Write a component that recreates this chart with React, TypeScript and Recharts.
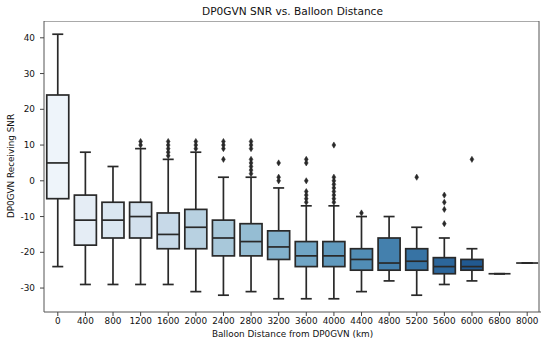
import React from 'react';
import { BarChart, Bar, XAxis, YAxis } from 'recharts';

const categories = ['0', '400', '800', '1200', '1600', '2000', '2400', '2800', '3200', '3600', '4000', '4400', '4800', '5200', '5600', '6000', '6800', '8000'];
const whiskerLow = [-24, -29, -29, -29, -29, -31, -32, -31, -33, -33, -33, -31, -28, -32, -29, -28, -26, -23];
const q1 = [-5, -18, -16, -16, -19, -19, -21, -21, -22, -24, -24, -25, -25, -25, -26, -25, -26, -23];
const median = [5, -11, -11, -10, -15, -13, -16, -17, -18.5, -21, -21, -22, -23, -22.5, -24, -24, -26, -23];
const q3 = [24, -4, -6, -6, -9, -8, -11, -12, -14, -17, -17, -19, -16, -19, -21.5, -22, -26, -23];
const whiskerHigh = [41, 8, 4, 9, 6, 8, 1, 1, -2, -7, -7, -10, -10, -13, -16, -19, -26, -23];
const outliers: number[][] = [
  [], [], [], [10, 11], [7, 8, 9, 10, 11], [9, 10, 11], [6, 9, 10, 11], [2, 3, 4, 5, 6, 9, 10, 11],
  [0, 1, 5], [-6, -5, -4, -3, 0, 5, 6], [-6, -5, -4, -3, -2, -1, 0, 1, 10], [-9], [], [1],
  [-12, -8, -6, -4], [6], [], [],
];
const yTicks = [-30, -20, -10, 0, 10, 20, 30, 40];
const Y_MIN = -36.7;
const Y_MAX = 44.7;
const BAR_FRACTION = 0.8;

// seaborn "Blues" palette, desaturated to 0.75
const BLUES = [
  [0.9686, 0.9843, 1.0], [0.8706, 0.9216, 0.9686], [0.7765, 0.8588, 0.9373],
  [0.6196, 0.7922, 0.8824], [0.4196, 0.6824, 0.8392], [0.2588, 0.5725, 0.7765],
  [0.1294, 0.4431, 0.7098], [0.0314, 0.3176, 0.6118], [0.0314, 0.1882, 0.4196],
];
function blues(t: number): number[] {
  const p = t * 8;
  const i = Math.min(7, Math.floor(p));
  const f = p - i;
  return [0, 1, 2].map((k) => BLUES[i][k] + (BLUES[i + 1][k] - BLUES[i][k]) * f);
}
function rgbToHls(r: number, g: number, b: number) {
  const mx = Math.max(r, g, b), mn = Math.min(r, g, b);
  const l = (mx + mn) / 2;
  if (mx === mn) return [0, l, 0];
  const d = mx - mn;
  const s = l <= 0.5 ? d / (mx + mn) : d / (2 - mx - mn);
  let h;
  if (mx === r) h = ((g - b) / d) % 6;
  else if (mx === g) h = (b - r) / d + 2;
  else h = (r - g) / d + 4;
  h = (h / 6 + 1) % 1;
  return [h, l, s];
}
function hue2rgb(m1: number, m2: number, h: number) {
  h = ((h % 1) + 1) % 1;
  if (h < 1 / 6) return m1 + (m2 - m1) * h * 6;
  if (h < 0.5) return m2;
  if (h < 2 / 3) return m1 + (m2 - m1) * (2 / 3 - h) * 6;
  return m1;
}
function hlsToRgb(h: number, l: number, s: number) {
  if (s === 0) return [l, l, l];
  const m2 = l <= 0.5 ? l * (1 + s) : l + s - l * s;
  const m1 = 2 * l - m2;
  return [hue2rgb(m1, m2, h + 1 / 3), hue2rgb(m1, m2, h), hue2rgb(m1, m2, h - 1 / 3)];
}
const toHex = (c: number[]) => '#' + c.map((v) => Math.round(Math.max(0, Math.min(1, v)) * 255).toString(16).padStart(2, '0')).join('');
const n = categories.length;
const palette = categories.map((_, i) => {
  const [r, g, b] = blues((i + 1) / (n + 1));
  const [h, l, s] = rgbToHls(r, g, b);
  return hlsToRgb(h, l, s * 0.75);
});
const minL = Math.min(...palette.map((c) => rgbToHls(c[0], c[1], c[2])[1]));
const GRAY = toHex([minL * 0.6, minL * 0.6, minL * 0.6]);
const colors = palette.map(toHex);

const data = categories.map((c, i) => ({
  cat: c,
  frame: [Y_MIN, Y_MAX],
  lo: whiskerLow[i],
  q1: q1[i],
  med: median[i],
  q3: q3[i],
  hi: whiskerHigh[i],
  out: outliers[i],
  color: colors[i],
}));

const FONT = 'DejaVu Sans';
const LW = 1.7;
const SPINE = '#555';

const BoxShape = (props: any) => {
  const { x, y, width, height, payload, index } = props;
  if (payload == null || x == null) return null;
  const top = Math.min(y, y + height);
  const h = Math.abs(height);
  const py = (v: number) => top + (h * (Y_MAX - v)) / (Y_MAX - Y_MIN);
  const cx = x + width / 2;
  const half = width / 2;
  const cap = width / 4;
  const yq1 = py(payload.q1), yq3 = py(payload.q3);
  // plot frame (top & right spines), derived from the band geometry of the first box
  const band = width / BAR_FRACTION;
  const plotLeft = cx - band / 2 - index * band;
  const plotRight = plotLeft + band * n;
  return (
    <g>
      {index === 0 && (
        <g>
          <line x1={plotLeft} x2={plotRight} y1={top} y2={top} stroke={SPINE} strokeWidth={1} />
          <line x1={plotRight} x2={plotRight} y1={top} y2={top + h} stroke={SPINE} strokeWidth={1} />
        </g>
      )}
      <line x1={cx} x2={cx} y1={py(payload.hi)} y2={yq3} stroke={GRAY} strokeWidth={LW} />
      <line x1={cx} x2={cx} y1={yq1} y2={py(payload.lo)} stroke={GRAY} strokeWidth={LW} />
      <line x1={cx - cap} x2={cx + cap} y1={py(payload.hi)} y2={py(payload.hi)} stroke={GRAY} strokeWidth={LW} />
      <line x1={cx - cap} x2={cx + cap} y1={py(payload.lo)} y2={py(payload.lo)} stroke={GRAY} strokeWidth={LW} />
      <rect x={cx - half} y={yq3} width={width} height={Math.max(0, yq1 - yq3)} fill={payload.color} stroke={GRAY} strokeWidth={LW} />
      <line x1={cx - half} x2={cx + half} y1={py(payload.med)} y2={py(payload.med)} stroke={GRAY} strokeWidth={LW} />
      {payload.out.map((v: number, k: number) => {
        const oy = py(v);
        return (
          <polygon key={k} points={`${cx},${oy - 3.1} ${cx + 1.9},${oy} ${cx},${oy + 3.1} ${cx - 1.9},${oy}`} fill={GRAY} stroke={GRAY} strokeWidth={0.5} />
        );
      })}
    </g>
  );
};

const tickStyle = { fontSize: 8.85, fill: '#111', fontFamily: FONT };

export default function App() {
  return (
    <div style={{ position: 'absolute', left: 0, top: 0, width: 550, height: 343, background: '#fff' }}>
      <BarChart width={550} height={343} data={data} margin={{ top: 21, right: 9, left: 0, bottom: 0 }} barCategoryGap="10%">
        <XAxis dataKey="cat" height={31} tick={tickStyle} tickSize={4} tickMargin={2} interval={0}
          axisLine={{ stroke: SPINE, strokeWidth: 1 }} tickLine={{ stroke: '#444' }} />
        <YAxis type="number" domain={[Y_MIN, Y_MAX]} ticks={yTicks} allowDataOverflow width={44}
          tick={tickStyle} tickSize={4} tickMargin={5} axisLine={{ stroke: SPINE, strokeWidth: 1 }} tickLine={{ stroke: '#444' }} />
        <Bar dataKey="frame" isAnimationActive={false} shape={(p: any) => <BoxShape {...p} />} />
      </BarChart>
      <svg width={550} height={343} style={{ position: 'absolute', left: 0, top: 0, pointerEvents: 'none' }}>
        <text x={292.5} y={15} textAnchor="middle" fontFamily={FONT} fontSize={10.6} fill="#111">DP0GVN SNR vs. Balloon Distance</text>
        <text x={292.5} y={336.5} textAnchor="middle" fontFamily={FONT} fontSize={8.85} fill="#111">Balloon Distance from DP0GVN (km)</text>
        <text x={13.5} y={166} textAnchor="middle" fontFamily={FONT} fontSize={8.85} fill="#111" transform="rotate(-90 13.5 166)">DP0GVN Receiving SNR</text>
      </svg>
    </div>
  );
}
